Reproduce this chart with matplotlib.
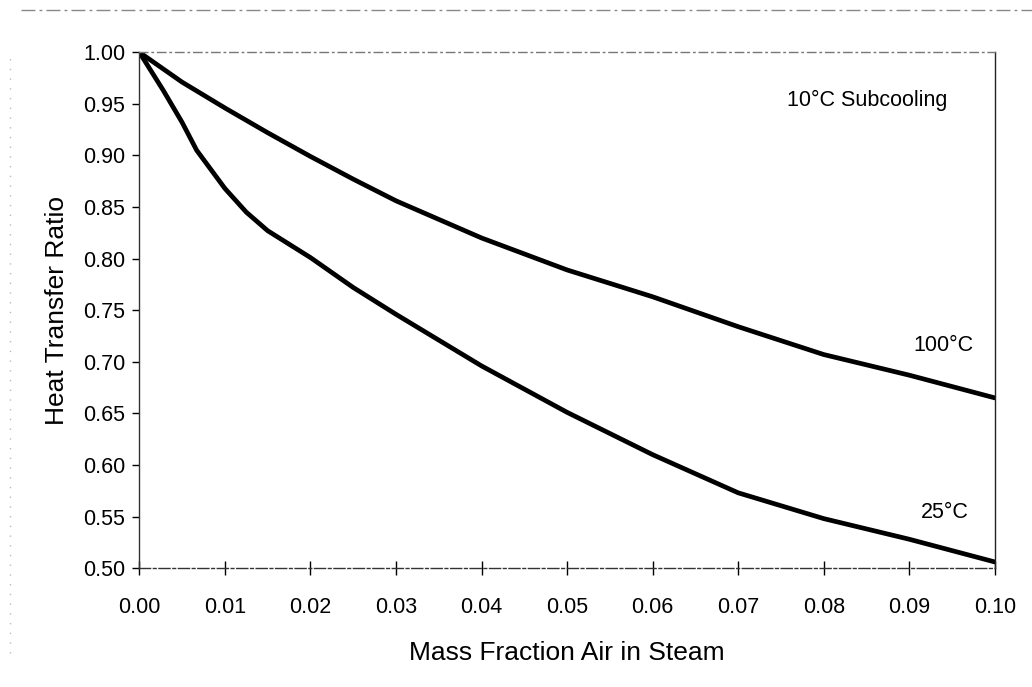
import matplotlib
matplotlib.use("Agg")
import matplotlib.pyplot as plt
from matplotlib.lines import Line2D

plt.rcParams['font.family'] = ['Liberation Sans', 'DejaVu Sans']

# values
x_100 = [0.0, 0.005, 0.01, 0.0125, 0.015, 0.02, 0.025, 0.03, 0.04, 0.05, 0.06, 0.07, 0.08, 0.09, 0.10]
y_100 = [1.0, 0.971, 0.946, 0.934, 0.922, 0.899, 0.877, 0.856, 0.820, 0.789, 0.763, 0.734, 0.707, 0.687, 0.665]

x_25 = [0.0, 0.0028, 0.005, 0.0067, 0.01, 0.0125, 0.015, 0.02, 0.025, 0.03, 0.04, 0.05, 0.06, 0.07, 0.08, 0.09, 0.10]
y_25 = [1.0, 0.963, 0.932, 0.905, 0.868, 0.845, 0.827, 0.801, 0.772, 0.746, 0.696, 0.651, 0.610, 0.573, 0.548, 0.528, 0.506]

x_ticks = [0.00, 0.01, 0.02, 0.03, 0.04, 0.05, 0.06, 0.07, 0.08, 0.09, 0.10]
y_ticks = [0.50, 0.55, 0.60, 0.65, 0.70, 0.75, 0.80, 0.85, 0.90, 0.95, 1.00]

fig = plt.figure(figsize=(10.32, 6.87), dpi=100)
ax = fig.add_axes([0.135, 0.173, 0.829, 0.751])

ax.plot(x_100, y_100, color='black', lw=3.4, solid_joinstyle='round', solid_capstyle='round')
ax.plot(x_25, y_25, color='black', lw=3.4, solid_joinstyle='round', solid_capstyle='round')

ax.set_xlim(0, 0.10)
ax.set_ylim(0.50, 1.00)
ax.set_xticks(x_ticks)
ax.set_yticks(y_ticks)
ax.set_xticklabels([f'{v:.2f}' for v in x_ticks])
ax.set_yticklabels([f'{v:.2f}' for v in y_ticks])
ax.tick_params(axis='x', direction='inout', length=10, width=1, pad=16, labelsize=15.5)
ax.tick_params(axis='y', direction='out', length=5, width=1, pad=5, labelsize=15.5)

ax.spines['left'].set_color('#333333')
ax.spines['right'].set_color('#222222')
ax.spines['bottom'].set_color('#333333')
ax.spines['bottom'].set_linestyle((0, (8, 2, 2, 2)))
ax.spines['top'].set_color('#777777')
ax.spines['top'].set_linestyle((0, (6, 3, 1, 3)))
for s in ax.spines.values():
    s.set_linewidth(1)

ax.set_xlabel('Mass Fraction Air in Steam', fontsize=19, labelpad=16)
ax.set_ylabel('Heat Transfer Ratio', fontsize=19, labelpad=10)

ax.text(0.0757, 0.953, '10°C Subcooling', fontsize=15.5, ha='left', va='center')
ax.text(0.0975, 0.716, '100°C', fontsize=15.5, ha='right', va='center')
ax.text(0.0970, 0.554, '25°C', fontsize=15.5, ha='right', va='center')

# faint scan borders of the page
fig.add_artist(Line2D([0.02, 1.0], [0.985, 0.985], transform=fig.transFigure,
                      color='#888888', lw=1, linestyle=(0, (10, 3, 2, 3))))
fig.add_artist(Line2D([0.01, 0.01], [0.05, 0.92], transform=fig.transFigure,
                      color='#bbbbbb', lw=1, linestyle=(0, (1, 6))))

fig.savefig('out.png', dpi=100)
